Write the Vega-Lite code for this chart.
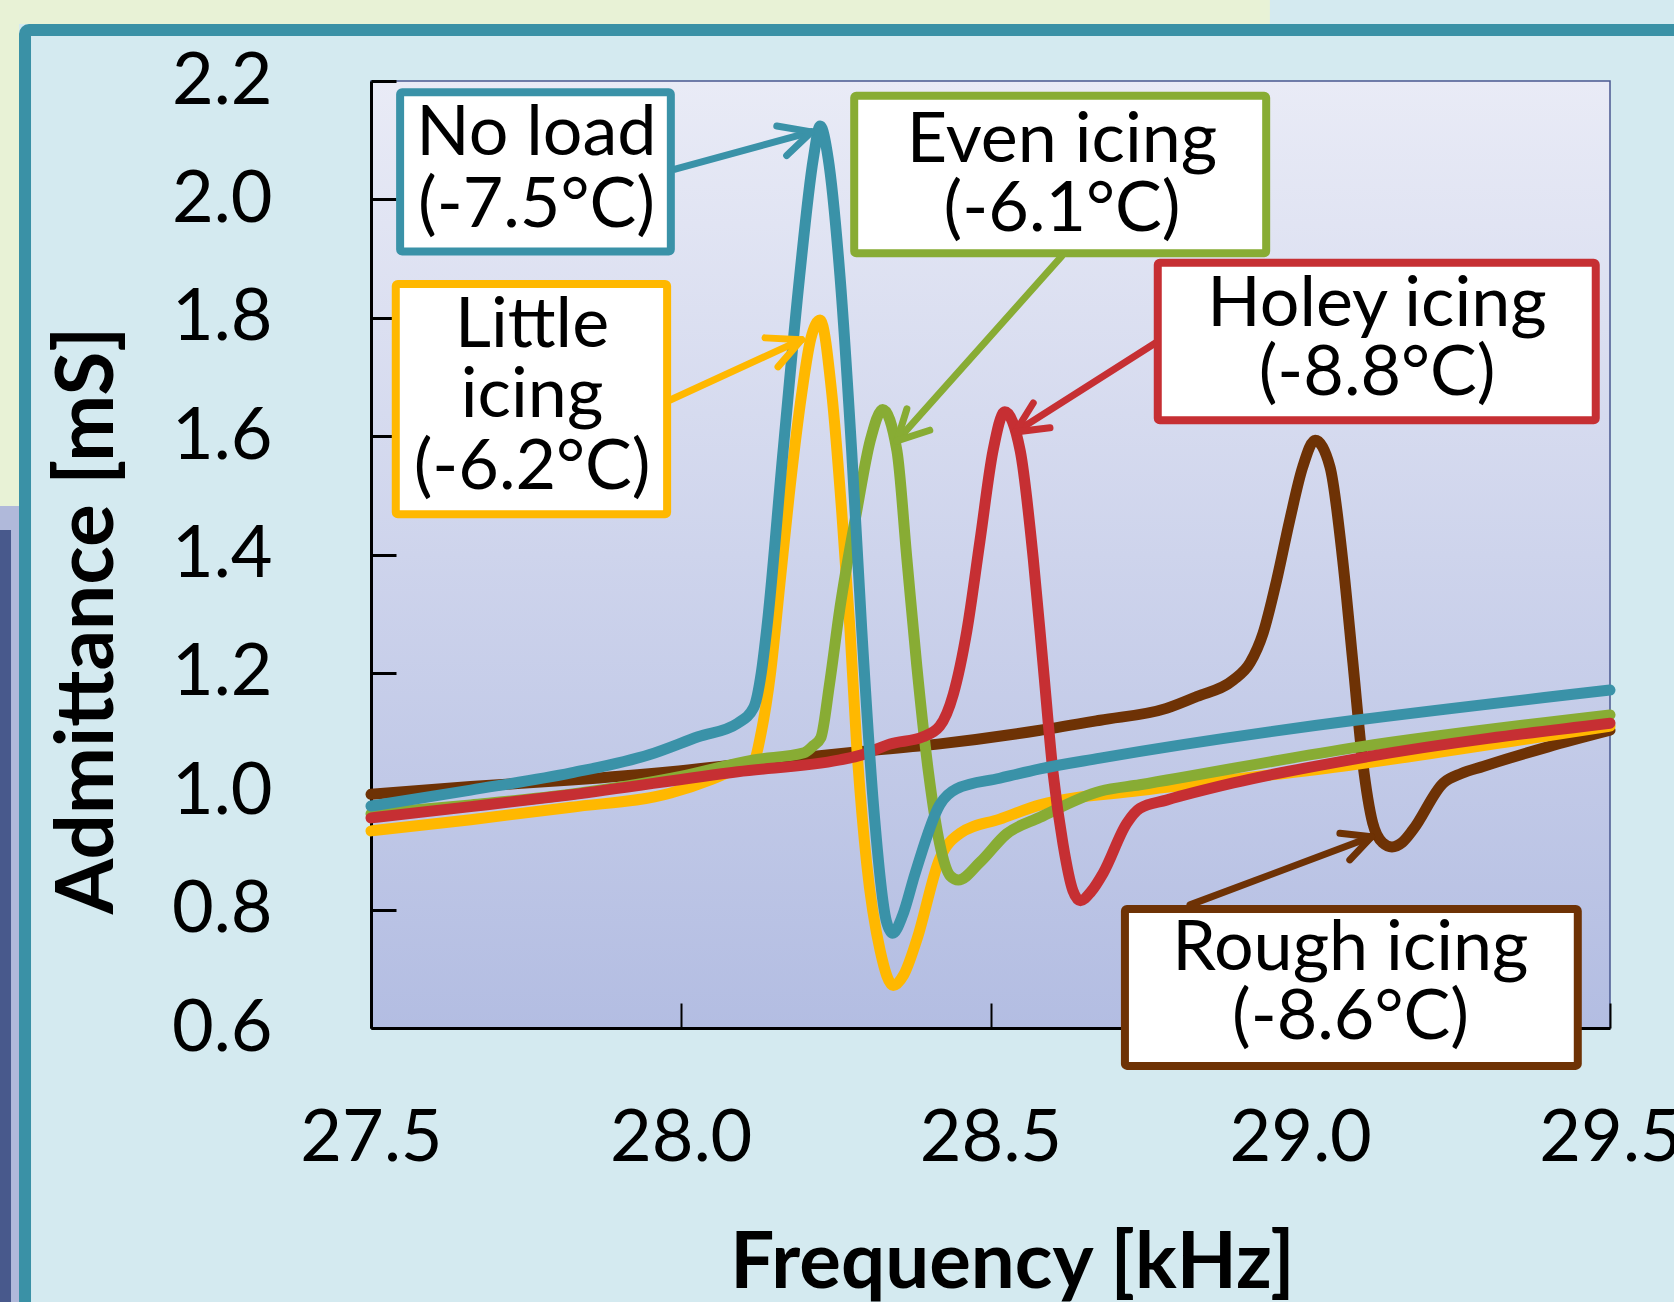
{
  "$schema": "https://vega.github.io/schema/vega-lite/v6.json",
  "width": 1239,
  "height": 947,
  "autosize": {"type": "none"},
  "padding": {"left": 371, "top": 81, "right": 64, "bottom": 274},
  "background": "#D4EAF0",
  "view": {
    "stroke": "#4A5890", "strokeWidth": 1.5,
    "fill": {"gradient": "linear", "x1": 0, "y1": 0, "x2": 0, "y2": 1,
      "stops": [{"offset": 0, "color": "#E9EBF6"}, {"offset": 1, "color": "#B3BDE2"}]}
  },
  "config": {"font": "Lato"},
  "datasets": {
    "greentop": [{"x": 26.885, "y": 2.3537, "x2": 28.951, "y2": 2.2963}],
    "greenleft": [{"x": 26.885, "y": 2.3537, "x2": 26.9318, "y2": 1.482}],
    "lavstrip": [{"x": 26.885, "y": 1.482, "x2": 26.9318, "y2": 0.1}],
    "darkstrip": [{"x": 26.885, "y": 1.4414, "x2": 26.9189, "y2": 0.1}],
    "panel": [{"x": 26.9415, "y": 2.2862, "x2": 29.645, "y2": 0.0898}],
    "curves": [
      {"s": "Rough icing", "x": 27.5, "y": 0.995},
      {"s": "Rough icing", "x": 27.661, "y": 1.008},
      {"s": "Rough icing", "x": 27.823, "y": 1.019},
      {"s": "Rough icing", "x": 27.984, "y": 1.033},
      {"s": "Rough icing", "x": 28.15, "y": 1.052},
      {"s": "Rough icing", "x": 28.291, "y": 1.067},
      {"s": "Rough icing", "x": 28.418, "y": 1.08},
      {"s": "Rough icing", "x": 28.58, "y": 1.103},
      {"s": "Rough icing", "x": 28.677, "y": 1.12},
      {"s": "Rough icing", "x": 28.784, "y": 1.14},
      {"s": "Rough icing", "x": 28.833, "y": 1.16},
      {"s": "Rough icing", "x": 28.892, "y": 1.188},
      {"s": "Rough icing", "x": 28.919, "y": 1.217},
      {"s": "Rough icing", "x": 28.94, "y": 1.267},
      {"s": "Rough icing", "x": 28.962, "y": 1.357},
      {"s": "Rough icing", "x": 28.983, "y": 1.458},
      {"s": "Rough icing", "x": 29.004, "y": 1.548},
      {"s": "Rough icing", "x": 29.024, "y": 1.593},
      {"s": "Rough icing", "x": 29.048, "y": 1.548},
      {"s": "Rough icing", "x": 29.069, "y": 1.386},
      {"s": "Rough icing", "x": 29.085, "y": 1.217},
      {"s": "Rough icing", "x": 29.101, "y": 1.048},
      {"s": "Rough icing", "x": 29.117, "y": 0.946},
      {"s": "Rough icing", "x": 29.133, "y": 0.913},
      {"s": "Rough icing", "x": 29.148, "y": 0.906},
      {"s": "Rough icing", "x": 29.165, "y": 0.914},
      {"s": "Rough icing", "x": 29.182, "y": 0.935},
      {"s": "Rough icing", "x": 29.231, "y": 1.014},
      {"s": "Rough icing", "x": 29.26, "y": 1.03},
      {"s": "Rough icing", "x": 29.295, "y": 1.042},
      {"s": "Rough icing", "x": 29.4, "y": 1.075},
      {"s": "Rough icing", "x": 29.5, "y": 1.103},
      {"s": "Little icing", "x": 27.5, "y": 0.933},
      {"s": "Little icing", "x": 27.661, "y": 0.952},
      {"s": "Little icing", "x": 27.823, "y": 0.973},
      {"s": "Little icing", "x": 27.984, "y": 0.997},
      {"s": "Little icing", "x": 28.05, "y": 1.02},
      {"s": "Little icing", "x": 28.1, "y": 1.043},
      {"s": "Little icing", "x": 28.118, "y": 1.052},
      {"s": "Little icing", "x": 28.13, "y": 1.1},
      {"s": "Little icing", "x": 28.145, "y": 1.2},
      {"s": "Little icing", "x": 28.16, "y": 1.35},
      {"s": "Little icing", "x": 28.175, "y": 1.5},
      {"s": "Little icing", "x": 28.195, "y": 1.67},
      {"s": "Little icing", "x": 28.21, "y": 1.765},
      {"s": "Little icing", "x": 28.225, "y": 1.796},
      {"s": "Little icing", "x": 28.244, "y": 1.67},
      {"s": "Little icing", "x": 28.26, "y": 1.47},
      {"s": "Little icing", "x": 28.273, "y": 1.276},
      {"s": "Little icing", "x": 28.284, "y": 1.077},
      {"s": "Little icing", "x": 28.3, "y": 0.879},
      {"s": "Little icing", "x": 28.322, "y": 0.73},
      {"s": "Little icing", "x": 28.343, "y": 0.672},
      {"s": "Little icing", "x": 28.36, "y": 0.69},
      {"s": "Little icing", "x": 28.381, "y": 0.749},
      {"s": "Little icing", "x": 28.418, "y": 0.886},
      {"s": "Little icing", "x": 28.451, "y": 0.929},
      {"s": "Little icing", "x": 28.515, "y": 0.953},
      {"s": "Little icing", "x": 28.58, "y": 0.977},
      {"s": "Little icing", "x": 28.741, "y": 1.001},
      {"s": "Little icing", "x": 29.08, "y": 1.044},
      {"s": "Little icing", "x": 29.376, "y": 1.09},
      {"s": "Little icing", "x": 29.5, "y": 1.11},
      {"s": "Even icing", "x": 27.5, "y": 0.962},
      {"s": "Even icing", "x": 27.661, "y": 0.977},
      {"s": "Even icing", "x": 27.823, "y": 0.995},
      {"s": "Even icing", "x": 28.0, "y": 1.025},
      {"s": "Even icing", "x": 28.118, "y": 1.053},
      {"s": "Even icing", "x": 28.199, "y": 1.065},
      {"s": "Even icing", "x": 28.214, "y": 1.077},
      {"s": "Even icing", "x": 28.226, "y": 1.09},
      {"s": "Even icing", "x": 28.24, "y": 1.18},
      {"s": "Even icing", "x": 28.257, "y": 1.31},
      {"s": "Even icing", "x": 28.284, "y": 1.473},
      {"s": "Even icing", "x": 28.306, "y": 1.593},
      {"s": "Even icing", "x": 28.326, "y": 1.645},
      {"s": "Even icing", "x": 28.349, "y": 1.575},
      {"s": "Even icing", "x": 28.365, "y": 1.393},
      {"s": "Even icing", "x": 28.381, "y": 1.212},
      {"s": "Even icing", "x": 28.4, "y": 1.031},
      {"s": "Even icing", "x": 28.418, "y": 0.911},
      {"s": "Even icing", "x": 28.435, "y": 0.857},
      {"s": "Even icing", "x": 28.448, "y": 0.85},
      {"s": "Even icing", "x": 28.483, "y": 0.88},
      {"s": "Even icing", "x": 28.526, "y": 0.928},
      {"s": "Even icing", "x": 28.58, "y": 0.956},
      {"s": "Even icing", "x": 28.677, "y": 1.0},
      {"s": "Even icing", "x": 28.741, "y": 1.011},
      {"s": "Even icing", "x": 29.096, "y": 1.075},
      {"s": "Even icing", "x": 29.5, "y": 1.129},
      {"s": "Holey icing", "x": 27.5, "y": 0.955},
      {"s": "Holey icing", "x": 27.661, "y": 0.974},
      {"s": "Holey icing", "x": 27.823, "y": 0.994},
      {"s": "Holey icing", "x": 28.092, "y": 1.033},
      {"s": "Holey icing", "x": 28.257, "y": 1.053},
      {"s": "Holey icing", "x": 28.291, "y": 1.061},
      {"s": "Holey icing", "x": 28.338, "y": 1.08},
      {"s": "Holey icing", "x": 28.391, "y": 1.092},
      {"s": "Holey icing", "x": 28.418, "y": 1.11},
      {"s": "Holey icing", "x": 28.44, "y": 1.164},
      {"s": "Holey icing", "x": 28.462, "y": 1.272},
      {"s": "Holey icing", "x": 28.483, "y": 1.423},
      {"s": "Holey icing", "x": 28.504, "y": 1.575},
      {"s": "Holey icing", "x": 28.523, "y": 1.641},
      {"s": "Holey icing", "x": 28.548, "y": 1.575},
      {"s": "Holey icing", "x": 28.569, "y": 1.393},
      {"s": "Holey icing", "x": 28.585, "y": 1.212},
      {"s": "Holey icing", "x": 28.601, "y": 1.031},
      {"s": "Holey icing", "x": 28.617, "y": 0.911},
      {"s": "Holey icing", "x": 28.633, "y": 0.832},
      {"s": "Holey icing", "x": 28.645, "y": 0.815},
      {"s": "Holey icing", "x": 28.662, "y": 0.83},
      {"s": "Holey icing", "x": 28.682, "y": 0.862},
      {"s": "Holey icing", "x": 28.72, "y": 0.946},
      {"s": "Holey icing", "x": 28.741, "y": 0.971},
      {"s": "Holey icing", "x": 28.784, "y": 0.985},
      {"s": "Holey icing", "x": 28.892, "y": 1.014},
      {"s": "Holey icing", "x": 29.107, "y": 1.058},
      {"s": "Holey icing", "x": 29.5, "y": 1.115},
      {"s": "No load", "x": 27.5, "y": 0.975},
      {"s": "No load", "x": 27.661, "y": 1.002},
      {"s": "No load", "x": 27.823, "y": 1.031},
      {"s": "No load", "x": 27.95, "y": 1.062},
      {"s": "No load", "x": 28.028, "y": 1.092},
      {"s": "No load", "x": 28.092, "y": 1.115},
      {"s": "No load", "x": 28.118, "y": 1.142},
      {"s": "No load", "x": 28.13, "y": 1.2},
      {"s": "No load", "x": 28.139, "y": 1.276},
      {"s": "No load", "x": 28.165, "y": 1.573},
      {"s": "No load", "x": 28.192, "y": 1.871},
      {"s": "No load", "x": 28.214, "y": 2.069},
      {"s": "No load", "x": 28.225, "y": 2.124},
      {"s": "No load", "x": 28.238, "y": 2.069},
      {"s": "No load", "x": 28.257, "y": 1.871},
      {"s": "No load", "x": 28.276, "y": 1.573},
      {"s": "No load", "x": 28.292, "y": 1.276},
      {"s": "No load", "x": 28.311, "y": 0.978},
      {"s": "No load", "x": 28.332, "y": 0.78},
      {"s": "No load", "x": 28.342, "y": 0.76},
      {"s": "No load", "x": 28.358, "y": 0.79},
      {"s": "No load", "x": 28.378, "y": 0.86},
      {"s": "No load", "x": 28.418, "y": 0.977},
      {"s": "No load", "x": 28.445, "y": 1.004},
      {"s": "No load", "x": 28.515, "y": 1.022},
      {"s": "No load", "x": 28.58, "y": 1.038},
      {"s": "No load", "x": 28.677, "y": 1.056},
      {"s": "No load", "x": 29.5, "y": 1.171}
    ],
    "arrows": [
      {"s": "No load", "x": 27.991, "y": 2.051, "x2": 28.211, "y2": 2.114},
      {"s": "No load", "x": 28.155, "y": 2.124, "x2": 28.211, "y2": 2.114},
      {"s": "No load", "x": 28.171, "y": 2.074, "x2": 28.211, "y2": 2.114},
      {"s": "Little icing", "x": 27.983, "y": 1.661, "x2": 28.195, "y2": 1.763},
      {"s": "Little icing", "x": 28.136, "y": 1.766, "x2": 28.195, "y2": 1.763},
      {"s": "Little icing", "x": 28.157, "y": 1.717, "x2": 28.195, "y2": 1.763},
      {"s": "Even icing", "x": 28.615, "y": 1.904, "x2": 28.349, "y2": 1.592},
      {"s": "Even icing", "x": 28.365, "y": 1.646, "x2": 28.349, "y2": 1.592},
      {"s": "Even icing", "x": 28.402, "y": 1.61, "x2": 28.349, "y2": 1.592},
      {"s": "Holey icing", "x": 28.77, "y": 1.76, "x2": 28.54, "y2": 1.607},
      {"s": "Holey icing", "x": 28.569, "y": 1.656, "x2": 28.54, "y2": 1.607},
      {"s": "Holey icing", "x": 28.596, "y": 1.614, "x2": 28.54, "y2": 1.607},
      {"s": "Rough icing", "x": 28.822, "y": 0.808, "x2": 29.115, "y2": 0.923},
      {"s": "Rough icing", "x": 29.064, "y": 0.929, "x2": 29.115, "y2": 0.923},
      {"s": "Rough icing", "x": 29.08, "y": 0.884, "x2": 29.115, "y2": 0.923}
    ],
    "boxes": [
      {"s": "No load", "x": 27.547, "x2": 27.984, "y": 2.181, "y2": 1.912},
      {"s": "Little icing", "x": 27.54, "x2": 27.978, "y": 1.857, "y2": 1.468},
      {"s": "Even icing", "x": 28.28, "x2": 28.945, "y": 2.175, "y2": 1.909},
      {"s": "Holey icing", "x": 28.77, "x2": 29.477, "y": 1.893, "y2": 1.627},
      {"s": "Rough icing", "x": 28.717, "x2": 29.448, "y": 0.801, "y2": 0.536}
    ],
    "labels": [
      {"x": 27.767, "y": 2.0754, "t": "No load"},
      {"x": 27.767, "y": 1.9526, "t": "(-7.5°C)"},
      {"x": 27.76, "y": 1.7503, "t": "Little"},
      {"x": 27.76, "y": 1.633, "t": "icing"},
      {"x": 27.76, "y": 1.5102, "t": "(-6.2°C)"},
      {"x": 28.6155, "y": 2.0628, "t": "Even icing"},
      {"x": 28.6155, "y": 1.9472, "t": "(-6.1°C)"},
      {"x": 29.124, "y": 1.7865, "t": "Holey icing"},
      {"x": 29.124, "y": 1.6691, "t": "(-8.8°C)"},
      {"x": 29.081, "y": 0.6975, "t": "Rough icing"},
      {"x": 29.081, "y": 0.582, "t": "(-8.6°C)"}
    ]
  },
  "encoding": {
    "x": {
      "field": "x", "type": "quantitative", "title": "Frequency [kHz]",
      "scale": {"domain": [27.5, 29.5], "nice": false, "zero": false},
      "axis": {
        "values": [27.5, 28, 28.5, 29, 29.5], "format": ".1f", "grid": false,
        "domainColor": "black", "domainWidth": 3,
        "tickColor": "black", "tickWidth": 2, "tickSize": -25,
        "labelFont": "Lato", "labelFontSize": 72, "labelColor": "black",
        "labelPadding": 100, "labelFlush": false, "labelOverlap": false,
        "titleFont": "Lato", "titleFontSize": 78, "titleFontWeight": "bold", "titleColor": "black",
        "titleX": 641, "titleY": 259, "titleBaseline": "alphabetic",
        "zindex": 0
      }
    },
    "y": {
      "field": "y", "type": "quantitative", "title": "Admittance [mS]",
      "scale": {"domain": [0.6, 2.2], "nice": false, "zero": false},
      "axis": {
        "values": [0.6, 0.8, 1.0, 1.2, 1.4, 1.6, 1.8, 2.0, 2.2], "format": ".1f", "grid": false,
        "domainColor": "black", "domainWidth": 3,
        "tickColor": "black", "tickWidth": 3, "tickSize": -25,
        "labelFont": "Lato", "labelFontSize": 72, "labelColor": "black",
        "labelPadding": 124, "labelFlush": false, "labelOverlap": false,
        "titleFont": "Lato", "titleFontSize": 80, "titleFontWeight": "bold", "titleColor": "black",
        "titleX": -259, "titleY": 539, "titleBaseline": "alphabetic", "titleAngle": -90,
        "zindex": 0
      }
    }
  },
  "layer": [
    {
      "data": {"name": "greentop"},
      "mark": {"type": "rect", "fill": "#E8F2D6"},
      "encoding": {"x2": {"field": "x2"}, "y2": {"field": "y2"}}
    },
    {
      "data": {"name": "greenleft"},
      "mark": {"type": "rect", "fill": "#E8F2D6"},
      "encoding": {"x2": {"field": "x2"}, "y2": {"field": "y2"}}
    },
    {
      "data": {"name": "lavstrip"},
      "mark": {"type": "rect", "fill": "#B0B9DA"},
      "encoding": {"x2": {"field": "x2"}, "y2": {"field": "y2"}}
    },
    {
      "data": {"name": "darkstrip"},
      "mark": {"type": "rect", "fill": "#48598C"},
      "encoding": {"x2": {"field": "x2"}, "y2": {"field": "y2"}}
    },
    {
      "data": {"name": "panel"},
      "mark": {"type": "rect", "filled": false, "stroke": "#3A91A6", "strokeWidth": 12, "cornerRadius": 4, "opacity": 1},
      "encoding": {"x2": {"field": "x2"}, "y2": {"field": "y2"}}
    },
    {
      "data": {"name": "curves"},
      "mark": {"type": "line", "strokeWidth": 11, "interpolate": "monotone", "strokeCap": "round", "strokeJoin": "round"},
      "encoding": {
        "color": {
          "field": "s", "type": "nominal", "legend": null,
          "scale": {"domain": ["Rough icing", "Little icing", "Even icing", "Holey icing", "No load"],
                    "range": ["#6E3205", "#FFB800", "#88AC34", "#C62F33", "#3A92A8"]}
        }
      }
    },
    {
      "data": {"name": "arrows"},
      "mark": {"type": "rule", "strokeWidth": 7, "strokeCap": "round"},
      "encoding": {
        "x2": {"field": "x2"}, "y2": {"field": "y2"},
        "color": {"field": "s", "type": "nominal", "legend": null}
      }
    },
    {
      "data": {"name": "boxes"},
      "mark": {"type": "rect", "fill": "white", "strokeWidth": 8, "cornerRadius": 2},
      "encoding": {
        "x2": {"field": "x2"}, "y2": {"field": "y2"},
        "stroke": {
          "field": "s", "type": "nominal", "legend": null,
          "scale": {"domain": ["Rough icing", "Little icing", "Even icing", "Holey icing", "No load"],
                    "range": ["#6E3205", "#FFB800", "#88AC34", "#C62F33", "#3A92A8"]}
        }
      }
    },
    {
      "data": {"name": "labels"},
      "mark": {"type": "text", "font": "Lato", "fontSize": 70, "align": "center", "baseline": "alphabetic", "color": "black"},
      "encoding": {"text": {"field": "t", "type": "nominal"}}
    }
  ]
}
